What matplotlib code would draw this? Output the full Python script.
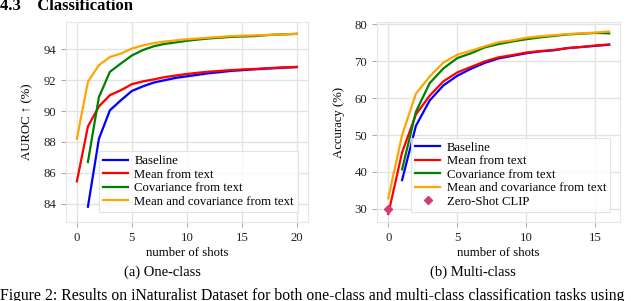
import matplotlib
matplotlib.use("Agg")
import matplotlib.pyplot as plt
import numpy as np

plt.rcParams['font.family'] = ['Liberation Serif', 'DejaVu Serif']
plt.rcParams['mathtext.fontset'] = 'stix'

# ---- One-class (AUROC) ----
shots_a = [0, 1, 2, 3, 4, 5, 6, 7, 8, 9, 10, 11, 12, 13, 14, 15, 16, 17, 18, 19, 20]
baseline_a = [None, 83.8, 88.2, 90.05, 90.7, 91.3, 91.6, 91.85, 92.0, 92.15, 92.25, 92.35, 92.45, 92.52, 92.6, 92.65, 92.7, 92.74, 92.78, 92.82, 92.85]
mean_a = [85.45, 89.0, 90.3, 91.03, 91.35, 91.74, 91.92, 92.05, 92.2, 92.3, 92.4, 92.48, 92.55, 92.6, 92.65, 92.69, 92.72, 92.76, 92.8, 92.83, 92.86]
cov_a = [None, 86.7, 90.9, 92.54, 93.08, 93.6, 93.95, 94.2, 94.35, 94.45, 94.55, 94.63, 94.7, 94.75, 94.8, 94.83, 94.85, 94.9, 94.95, 94.97, 95.0]
meancov_a = [88.2, 91.9, 92.97, 93.5, 93.72, 94.05, 94.25, 94.4, 94.5, 94.58, 94.65, 94.7, 94.75, 94.8, 94.85, 94.88, 94.9, 94.92, 94.95, 94.97, 95.0]

# ---- Multi-class (Accuracy) ----
shots_b = [0, 1, 2, 3, 4, 5, 6, 7, 8, 9, 10, 11, 12, 13, 14, 15, 16]
baseline_b = [None, 37.8, 52.5, 59.4, 63.5, 66.1, 68.0, 69.6, 70.8, 71.5, 72.2, 72.7, 73.0, 73.6, 73.9, 74.2, 74.5]
mean_b = [28.6, 45.3, 55.6, 60.7, 64.6, 67.0, 68.5, 70.0, 71.1, 71.7, 72.4, 72.8, 73.1, 73.6, 73.9, 74.3, 74.6]
cov_b = [None, 40.7, 56.3, 64.1, 68.1, 70.9, 72.2, 73.8, 74.7, 75.4, 76.0, 76.5, 76.9, 77.3, 77.5, 77.7, 77.6]
meancov_b = [32.9, 50.0, 61.2, 65.9, 69.7, 71.8, 72.9, 74.1, 75.2, 75.7, 76.4, 76.8, 77.1, 77.4, 77.6, 77.8, 78.1]
zeroshot_x = [0]
zeroshot_y = [30.0]

labels = ["Baseline", "Mean from text", "Covariance from text", "Mean and covariance from text"]
colors = ["blue", "red", "green", "orange"]

FS = 9.2

fig = plt.figure(figsize=(6.4, 3.01), dpi=100)
axA = fig.add_axes([0.103, 0.262, 0.378, 0.664])
axB = fig.add_axes([0.589, 0.262, 0.380, 0.664])

def arr(v):
    return np.array([np.nan if x is None else x for x in v], dtype=float)

def style(ax):
    ax.grid(True, color='#e3e3e3', linewidth=1.0)
    ax.set_axisbelow(True)
    for s in ax.spines.values():
        s.set_color('#e6e6e6')
        s.set_linewidth(0.8)
    ax.tick_params(axis='both', colors='#999999', labelcolor='#222222',
                   labelsize=FS, length=3.5, width=0.6, pad=3.5)

for ax, xs, series in [(axA, shots_a, [baseline_a, mean_a, cov_a, meancov_a]),
                       (axB, shots_b, [baseline_b, mean_b, cov_b, meancov_b])]:
    for vals, lab, col in zip(series, labels, colors):
        y = arr(vals)
        ax.plot(xs, y, color=col, lw=1.6, label=lab, zorder=3)
    style(ax)

# faint std bands for one-class baseline/mean
for vals in (baseline_a, mean_a):
    y = arr(vals)
    axA.fill_between(shots_a, y - 0.08, y + 0.08, color='#b090e0', alpha=0.25, lw=0, zorder=2)

axB.plot(zeroshot_x, zeroshot_y, linestyle='none', marker='D', markersize=4.5,
         color='#d23c73', label='Zero-Shot CLIP', zorder=4)

axA.set_xlim(-1, 21)
axA.set_ylim(82.8, 95.75)
axA.set_xticks([0, 5, 10, 15, 20])
axA.set_yticks([84, 86, 88, 90, 92, 94])
axA.set_xlabel('number of shots', fontsize=FS, labelpad=2)
axA.set_ylabel('AUROC \u2191 (%)', fontsize=FS, labelpad=7)

axB.set_xlim(-0.82, 16.8)
axB.set_ylim(26.4, 80.6)
axB.set_xticks([0, 5, 10, 15])
axB.set_yticks([30, 40, 50, 60, 70, 80])
axB.set_xlabel('number of shots', fontsize=FS, labelpad=2)
axB.set_ylabel('Accuracy (%)', fontsize=FS, labelpad=7)

for ax in (axA, axB):
    leg = ax.legend(loc='lower right', bbox_to_anchor=(0.985, 0.02), fontsize=FS,
                    frameon=True, handlelength=2.0, handletextpad=0.5,
                    labelspacing=0.12, borderpad=0.3, fancybox=False)
    leg.get_frame().set_edgecolor('#dddddd')
    leg.get_frame().set_linewidth(0.8)

fig.text(0.0, 1 - 10.5 / 301, '4.3    Classification', fontsize=12, fontweight='bold',
         ha='left', va='baseline')
fig.text(162 / 640, 1 - 272.5 / 301, '(a) One-class', fontsize=10.5, ha='center', va='center')
fig.text(473 / 640, 1 - 272.5 / 301, '(b) Multi-class', fontsize=10.5, ha='center', va='center')
fig.text(0.0, 1 - 296 / 301,
         'Figure 2: Results on iNaturalist Dataset for both one-class and multi-class classification tasks using',
         fontsize=11.3, ha='left', va='center')

fig.savefig('out.png', dpi=100)
